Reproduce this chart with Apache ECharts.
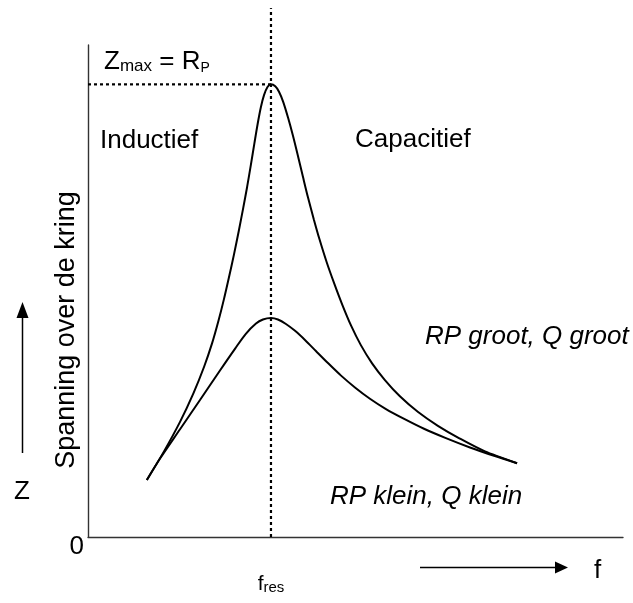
<!DOCTYPE html>
<html>
<head>
<meta charset="utf-8">
<script src="https://cdn.jsdelivr.net/npm/echarts@6/dist/echarts.min.js"></script>
<style>
  html, body { margin: 0; padding: 0; background: #fff; }
  #chart { width: 633px; height: 603px; }
</style>
</head>
<body>
<div id="chart"></div>
<script>
// Resonance curves of a parallel LC circuit (frequency vs. impedance, arbitrary units)
const fres = 34.2;          // resonance frequency
const zMax = 92.0;          // peak impedance of the high-Q circuit (Zmax = RP)
const dottedTop = 107.5;    // how far the fres guide rises above the axis

// High RP, high Q: narrow, tall peak
const freqHighQ = [11.0, 14.1, 17.2, 19.7, 21.7, 23.2, 24.4, 25.4, 26.35, 27.3, 28.2, 29.0, 29.75,
  30.45, 31.1, 31.7, 32.3, 32.9, 33.55, fres,
  35.0, 35.7, 36.5, 37.4, 38.3, 39.3, 40.2, 41.1, 42.2, 43.3, 44.6, 46.0, 47.5, 49.2, 51.0,
  53.1, 55.5, 58.3, 61.7, 65.4, 69.5, 74.2, 80.2];
const zHighQ = [11.6, 17.2, 23.4, 29.2, 34.6, 39.4, 44.0, 48.3, 52.8, 57.5, 62.3, 66.8, 71.2,
  75.7, 80.0, 83.9, 87.3, 89.8, 91.45, zMax,
  91.6, 90.5, 88.4, 85.2, 81.6, 77.2, 73.1, 69.1, 64.6, 60.4, 55.9, 51.6, 47.3, 42.9, 39.0,
  35.3, 31.9, 28.6, 25.4, 22.6, 20.0, 17.4, 15.0];

// Low RP, low Q: broad, low peak
const freqLowQ = [11.0, 13.5, 17.2, 20.9, 24.7, 27.5, 29.5, 31.4, 32.7, fres, 35.5, 37.0,
  38.7, 40.6, 42.6, 44.9, 47.3, 49.9, 52.7, 55.7, 59.1, 62.8, 66.9, 71.4, 75.9, 80.2];
const zLowQ = [11.6, 16.0, 21.9, 27.8, 33.9, 38.3, 41.3, 43.4, 44.2, 44.5, 44.2, 43.3,
  41.9, 40.0, 37.8, 35.3, 32.8, 30.4, 28.1, 26.0, 24.0, 22.0, 20.1, 18.2, 16.5, 15.0];

const FONT = "'Liberation Sans', Arial, Helvetica, sans-serif";

function pairs(xs, ys) { return xs.map((x, i) => [x, ys[i]]); }

const chart = echarts.init(document.getElementById('chart'), null, { renderer: 'canvas' });

const dotted = { color: '#000', width: 2.2, type: [3, 3] };
const curve = { color: '#000', width: 2 };

chart.setOption({
  animation: false,
  backgroundColor: '#fff',
  grid: { left: 88, right: 10, top: 45, bottom: 66, containLabel: false },
  xAxis: {
    type: 'value', min: 0, max: 100,
    splitLine: { show: false },
    axisTick: { show: false },
    axisLine: { show: true, lineStyle: { color: '#333', width: 1.4 } },
    axisLabel: {
      customValues: [fres],
      margin: 36,
      formatter: () => '{a|f}{b|res}',
      rich: {
        a: { fontFamily: FONT, fontSize: 21, color: '#000', lineHeight: 22, verticalAlign: 'bottom' },
        b: { fontFamily: FONT, fontSize: 15, color: '#000', lineHeight: 22, verticalAlign: 'bottom' }
      }
    }
  },
  yAxis: {
    type: 'value', min: 0, max: 100,
    splitLine: { show: false },
    axisTick: { show: false },
    axisLine: { show: true, lineStyle: { color: '#333', width: 1.4 } },
    axisLabel: {
      customValues: [0],
      formatter: v => (v === 0 ? '0' : ''),
      margin: 4,
      verticalAlign: 'top',
      lineHeight: 20,
      fontFamily: FONT, fontSize: 26, color: '#000'
    }
  },
  series: [
    {
      name: 'RP groot, Q groot', type: 'line', data: pairs(freqHighQ, zHighQ),
      smooth: 0.3, showSymbol: false, lineStyle: curve, z: 3
    },
    {
      name: 'RP klein, Q klein', type: 'line', data: pairs(freqLowQ, zLowQ),
      smooth: 0.3, showSymbol: false, lineStyle: curve, z: 3
    },
    {
      name: 'fres', type: 'line', data: [[fres, 0], [fres, dottedTop]],
      clip: false, showSymbol: false, lineStyle: dotted, z: 2
    },
    {
      name: 'Zmax', type: 'line', data: [[0, zMax], [fres, zMax]],
      showSymbol: false, lineStyle: dotted, z: 2
    }
  ],
  graphic: [
    {
      type: 'text',
      style: {
        x: 104, y: 61, textVerticalAlign: 'middle',
        text: '{a|Z}{b|max}{a| = R}{c|P}',
        rich: {
          a: { fontFamily: FONT, fontSize: 26, fill: '#000', lineHeight: 28, verticalAlign: 'bottom' },
          b: { fontFamily: FONT, fontSize: 17, fill: '#000', lineHeight: 28, verticalAlign: 'bottom' },
          c: { fontFamily: FONT, fontSize: 14, fill: '#000', lineHeight: 28, verticalAlign: 'bottom' }
        }
      }
    },
    {
      type: 'text',
      style: { x: 100, y: 141, text: 'Inductief', font: '26px ' + FONT, fill: '#000', textVerticalAlign: 'middle' }
    },
    {
      type: 'text',
      style: { x: 355, y: 140, text: 'Capacitief', font: '26px ' + FONT, fill: '#000', textVerticalAlign: 'middle' }
    },
    {
      type: 'text', x: 67, y: 330, rotation: Math.PI / 2,
      style: { x: 0, y: 0, text: 'Spanning over de kring', font: '27px ' + FONT, fill: '#000',
        textAlign: 'center', textVerticalAlign: 'middle' }
    },
    {
      type: 'text',
      style: { x: 425, y: 337, text: 'RP groot, Q groot', font: 'italic 26px ' + FONT, fill: '#000', textVerticalAlign: 'middle' }
    },
    {
      type: 'text',
      style: { x: 330, y: 497, text: 'RP klein, Q klein', font: 'italic 26px ' + FONT, fill: '#000', textVerticalAlign: 'middle' }
    },
    {
      type: 'text',
      style: { x: 22, y: 492, text: 'Z', font: '26px ' + FONT, fill: '#000', textAlign: 'center', textVerticalAlign: 'middle' }
    },
    {
      type: 'text',
      style: { x: 594, y: 571, text: 'f', font: '26px ' + FONT, fill: '#000', textVerticalAlign: 'middle' }
    },
    // vertical arrow next to Z
    { type: 'line', shape: { x1: 22.5, y1: 453, x2: 22.5, y2: 312 }, style: { stroke: '#000', lineWidth: 1.5 } },
    { type: 'polygon', shape: { points: [[22.5, 302], [16.5, 318], [28.5, 318]] }, style: { fill: '#000' } },
    // horizontal arrow next to f
    { type: 'line', shape: { x1: 420, y1: 567.5, x2: 558, y2: 567.5 }, style: { stroke: '#000', lineWidth: 1.5 } },
    { type: 'polygon', shape: { points: [[568, 567.5], [555, 561.5], [555, 573.5]] }, style: { fill: '#000' } }
  ]
});
</script>
</body>
</html>
